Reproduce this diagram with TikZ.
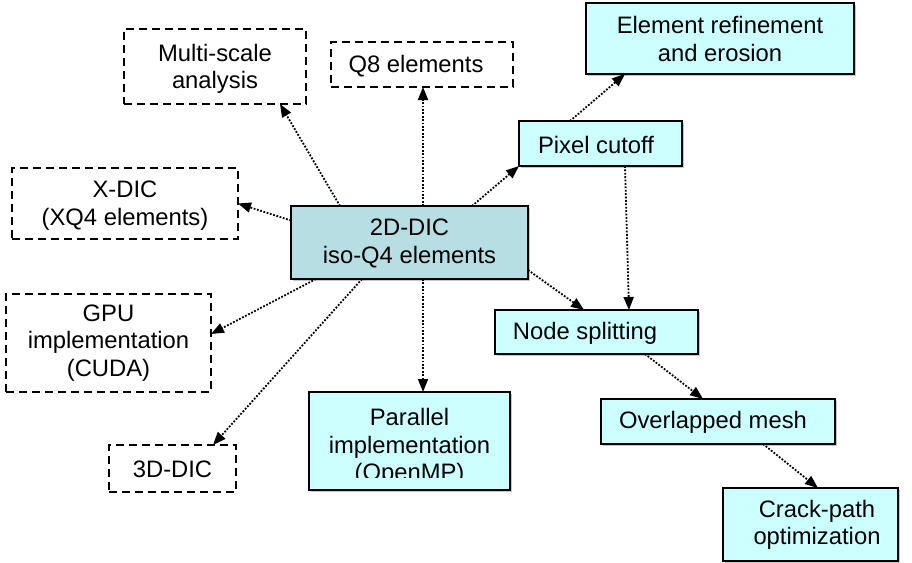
\documentclass[tikz,border=0pt]{standalone}
\usepackage{fontspec}
\setmainfont{Liberation Sans}
\usetikzlibrary{arrows.meta,shadows}
\definecolor{cyanfill}{HTML}{CCFFFF}
\definecolor{tealfill}{HTML}{B7DEE3}
\begin{document}
\begin{tikzpicture}[x=1pt,y=-1pt,
  font=\fontsize{23.8pt}{27.5pt}\selectfont,
  solidbox/.style={draw=black, line width=2pt, fill=cyanfill, inner sep=0pt, outer sep=0pt,
    general shadow={fill=black!22, shadow xshift=1.5pt, shadow yshift=-1.5pt}},
  ctrbox/.style={solidbox, fill=tealfill},
  dashbox/.style={draw=black, line width=2pt, dash pattern=on 8pt off 5pt, inner sep=0pt, outer sep=0pt},
  txt/.style={inner sep=0pt, align=center},
  conn/.style={line width=1.8pt, dash pattern=on 1.8pt off 1.6pt, -{Triangle[length=13pt,width=10pt]}}
]
\useasboundingbox (0,0) rectangle (912,562);

% dashed boxes
\node[dashbox, minimum width=182pt, minimum height=75pt] (ms) at (215,66.5) {};
\node[txt] (mst) at (215,69) {Multi-scale\\analysis};
\node[dashbox, minimum width=182pt, minimum height=45pt] (q8) at (422,64.5) {};
\node[txt] (q8t) at (416,66) {Q8 elements};
\node[dashbox, minimum width=226pt, minimum height=71pt] (xdic) at (125,203.5) {};
\node[txt] (xdict) at (125,205.5) {X-DIC\\(XQ4 elements)};
\node[dashbox, minimum width=205pt, minimum height=98pt] (gpu) at (108.5,343) {};
\node[txt] (gput) at (108.5,343) {GPU\\implementation\\(CUDA)};
\node[dashbox, minimum width=127pt, minimum height=47pt] (d3) at (172.5,468.5) {};
\node[txt] (d3t) at (172.5,469) {3D-DIC};

% solid boxes
\node[ctrbox, minimum width=237pt, minimum height=73pt] (c) at (409.5,242.5) {};
\node[txt] (ct) at (409.5,243.5) {2D-DIC\\iso-Q4 elements};
\node[solidbox, minimum width=268pt, minimum height=71pt] (er) at (720,38.5) {};
\node[txt] (ert) at (720,39) {Element refinement\\and erosion};
\node[solidbox, minimum width=163pt, minimum height=45pt] (pc) at (600.5,143.5) {};
\node[txt] (pct) at (596,144.5) {Pixel cutoff};
\node[solidbox, minimum width=203pt, minimum height=44pt] (ns) at (596.5,332) {};
\node[txt] (nst) at (585,333) {Node splitting};
\node[solidbox, minimum width=234pt, minimum height=45pt] (om) at (718,421.5) {};
\node[txt] (omt) at (713,422) {Overlapped mesh};
\node[solidbox, minimum width=175pt, minimum height=73pt] (cp) at (810.5,524.5) {};
\node[txt] (cpt) at (817,525) {Crack-path\\optimization};
\node[solidbox, minimum width=201pt, minimum height=98pt] (par) at (409.5,441) {};
\begin{scope}
  \clip (309,392) rectangle (510,477);
  \node[txt] (part) at (409.5,447) {Parallel\\implementation\\(OpenMP)};
\end{scope}

% connectors
\draw[conn] ([xshift=49pt]c.north west) -- ([xshift=-26pt]ms.south east);
\draw[conn] ([xshift=13.5pt]c.north) -- ([xshift=1pt]q8.south);
\draw[conn] ([yshift=22pt]c.west) -- (xdic.east);
\draw[conn] ([xshift=-56pt]c.north east) -- (pc.south west);
\draw[conn] ([xshift=-30.5pt]pc.north) -- ([xshift=39pt]er.south west);
\draw[conn] ([xshift=24.5pt]pc.south) -- ([xshift=32.5pt]ns.north);
\draw[conn] ([yshift=-27.5pt]c.east) -- ([xshift=-12.5pt]ns.north);
\draw[conn] ([xshift=25pt]c.south west) -- ([yshift=9pt]gpu.east);
\draw[conn] ([xshift=71pt]c.south west) -- ([xshift=-23pt]d3.north east);
\draw[conn] ([xshift=13.5pt]c.south) -- ([xshift=13.5pt]par.north);
\draw[conn] ([xshift=48.5pt]ns.south) -- ([xshift=-15pt]om.north);
\draw[conn] ([xshift=45pt]om.south) -- ([xshift=7.5pt]cp.north);
\end{tikzpicture}
\end{document}
